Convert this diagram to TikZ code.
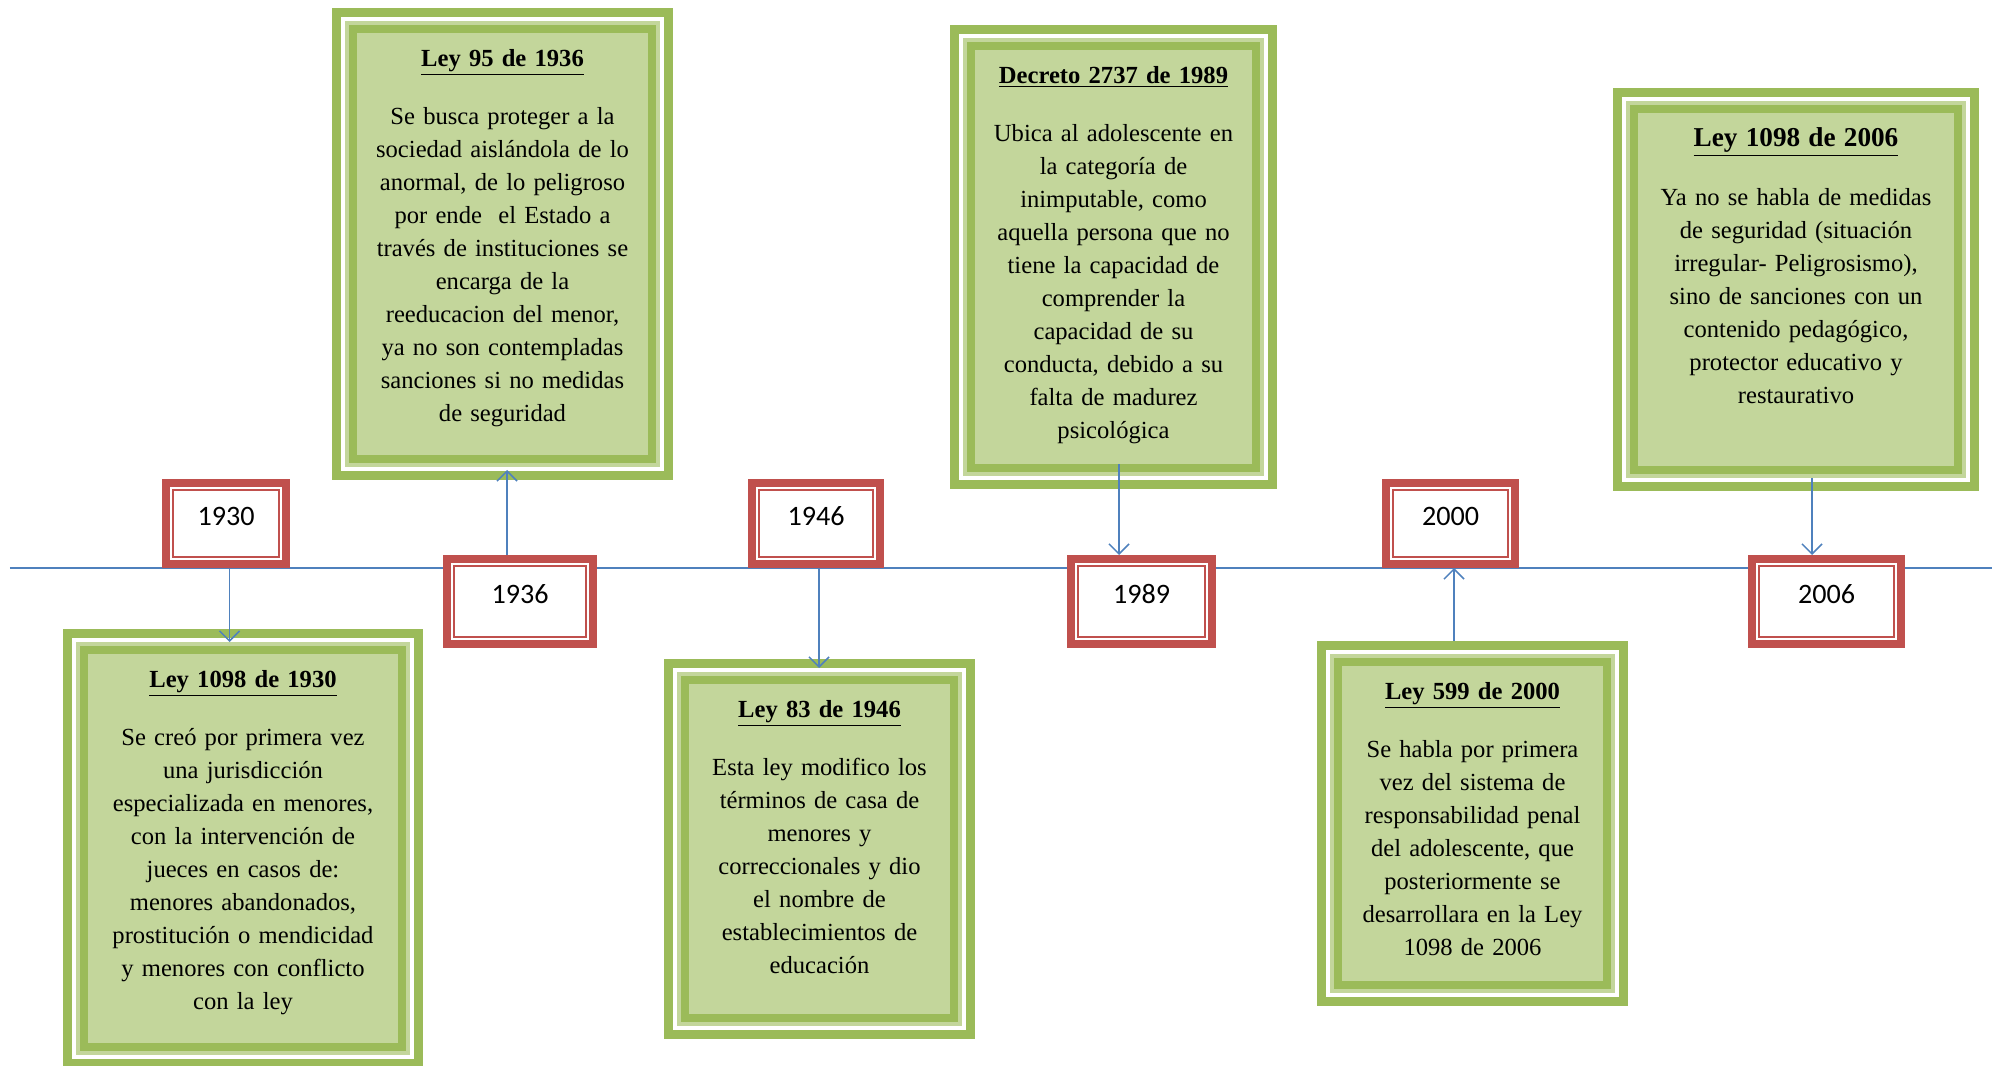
\documentclass[tikz,border=0pt]{standalone}
\usepackage{fontspec}
\setmainfont{Liberation Serif}
\newfontfamily\carlito{Carlito}
\usepackage{tikz}
\usetikzlibrary{positioning,calc}
\usetikzlibrary{arrows.meta}
\definecolor{verde}{HTML}{9BBB59}
\definecolor{verdeclaro}{HTML}{C3D69B}
\definecolor{rojo}{HTML}{C0504D}
\definecolor{azul}{HTML}{4F81BD}
\tikzstyle{ley} = [rectangle, draw=verde, line width=0.16cm, fill=verdeclaro, inner sep=0pt, outer sep=0.42cm, align=center, text height=0.76cm,
preaction={draw=verde, line width=0.84cm}, preaction={draw=white, line width=0.48cm}, preaction={draw=verdeclaro, line width=0.32cm},
font=\fontsize{14pt}{18.8pt}\selectfont]
\tikzstyle{anio} = [rectangle, draw=rojo, line width=0.04cm, fill=white, inner sep=0pt, outer sep=0.22cm, text depth=0.3cm,
preaction={draw=rojo, line width=0.44cm}, preaction={draw=white, line width=0.12cm},
font=\carlito\fontsize{16pt}{19pt}\selectfont]
\tikzstyle{flecha} = [draw=azul, line width=0.03cm, -{Straight Barb[length=0.2cm, width=0.4cm]}]
\tikzstyle{linea} = [draw=azul, line width=0.03cm]
\begin{document}
\begin{tikzpicture}
				\useasboundingbox (0,0) rectangle (39.84,21.3);
				\coordinate (inicio) at (0.2,9.94);
				\coordinate (fin) at (39.84,9.94);
				\draw[linea] (inicio) -- (fin);
				\node (a1930) at (4.52,10.83) [anio, minimum width=2.12cm, minimum height=1.34cm] {1930};
				\node (a1936) at (10.40,9.27) [anio, minimum width=2.64cm, minimum height=1.42cm] {1936};
				\node (a1946) at (16.32,10.83) [anio, minimum width=2.28cm, minimum height=1.34cm] {1946};
				\node (a1989) at (22.83,9.27) [anio, minimum width=2.54cm, minimum height=1.42cm] {1989};
				\node (a2000) at (29.01,10.83) [anio, minimum width=2.30cm, minimum height=1.34cm] {2000};
				\node (a2006) at (36.53,9.27) [anio, minimum width=2.70cm, minimum height=1.42cm] {2006};
				\node (l1930) at (4.86,8.72) [ley, anchor=north, text width=6.36cm, text depth=7.18cm] {\underline{\textbf{Ley 1098 de 1930}}\\[0.48cm]
				Se creó por primera vez\\ una jurisdicción\\ especializada en menores,\\ con la intervención de\\ jueces en casos de:\\ menores abandonados,\\ prostitución o mendicidad\\ y menores con conflicto\\ con la ley};
				\node (l1936) at (10.05,21.14) [ley, anchor=north, text width=5.98cm, text depth=7.84cm] {\underline{\textbf{Ley 95 de 1936}}\\[0.48cm]
				Se busca proteger a la\\ sociedad aislándola de lo\\ anormal, de lo peligroso\\ por ende~ el Estado a\\ través de instituciones se\\ encarga de la\\ reeducacion del menor,\\ ya no son contempladas\\ sanciones si no medidas\\ de seguridad};
				\node (l1946) at (16.39,8.12) [ley, anchor=north, text width=5.38cm, text depth=6.00cm] {\underline{\textbf{Ley 83 de 1946}}\\[0.48cm]
				Esta ley modifico los\\ términos de casa de\\ menores y\\ correccionales y dio\\ el nombre de\\ establecimientos de\\ educación};
				\node (l1989) at (22.27,20.80) [ley, anchor=north, text width=5.70cm, text depth=7.68cm] {\underline{\textbf{Decreto 2737 de 1989}}\\[0.48cm]
				Ubica al adolescente en\\ la categoría de\\ inimputable, como\\ aquella persona que no\\ tiene la capacidad de\\ comprender la\\ capacidad de su\\ conducta, debido a su\\ falta de madurez\\ psicológica};
				\node (l2000) at (29.45,8.48) [ley, anchor=north, text width=5.38cm, text depth=5.70cm] {\underline{\textbf{Ley 599 de 2000}}\\[0.48cm]
				Se habla por primera\\ vez del sistema de\\ responsabilidad penal\\ del adolescente, que\\ posteriormente se\\ desarrollara en la Ley\\ 1098 de 2006};
				\node (l2006) at (35.92,19.54) [ley, anchor=north, text width=6.48cm, text depth=6.46cm] {{\fontsize{15.5pt}{18.8pt}\selectfont\underline{\textbf{Ley 1098 de 2006}}}\\[0.5cm]
				Ya no se habla de medidas\\ de seguridad (situación\\ irregular- Peligrosismo),\\ sino de sanciones con un\\ contenido pedagógico,\\ protector educativo y\\ restaurativo};
				\draw[flecha, shorten >=-0.26cm] ([xshift=0.07cm]a1930.south) -- ([xshift=0.07cm]a1930.south |- l1930.north);
				\draw[flecha, shorten >=-0.2cm] ([xshift=-0.26cm]a1936.north) -- ([xshift=-0.26cm]a1936.north |- l1936.south);
				\draw[flecha, shorten >=-0.18cm] ([xshift=0.06cm]a1946.south) -- ([xshift=0.06cm]a1946.south |- l1946.north);
				\draw[flecha, shorten <=-0.5cm] ([xshift=-0.45cm]a1989.north |- l1989.south) -- ([xshift=-0.45cm]a1989.north);
				\draw[flecha] ([xshift=0.07cm]a2000.south |- l2000.north) -- ([xshift=0.07cm]a2000.south);
				\draw[flecha, shorten <=-0.26cm] ([xshift=-0.29cm]a2006.north |- l2006.south) -- ([xshift=-0.29cm]a2006.north);
\end{tikzpicture}
\end{document}
